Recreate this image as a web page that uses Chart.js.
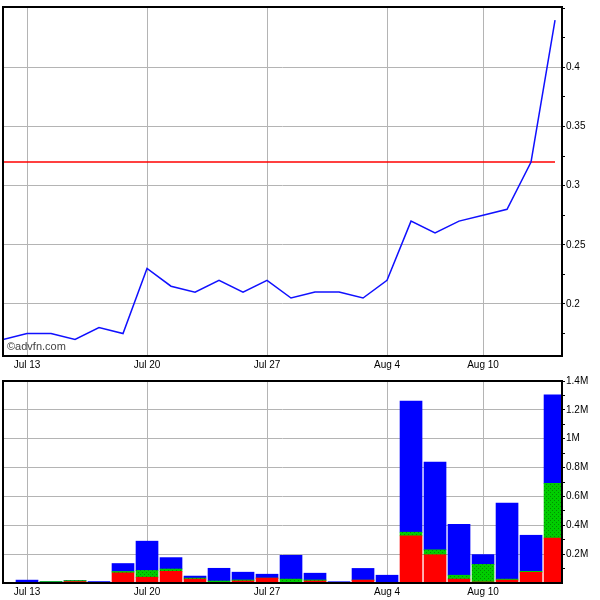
<!DOCTYPE html>
<html>
<head>
<meta charset="utf-8">
<script src="https://cdn.jsdelivr.net/npm/chart.js@4/dist/chart.umd.min.js"></script>
<style>
  body { margin: 0; background: #fff; }
  #wrap { position: relative; width: 600px; height: 600px; }
  canvas { position: absolute; left: 0; }
  #priceChart { top: 0; }
  #volChart { top: 374px; }
</style>
</head>
<body>
<div id="wrap">
  <canvas id="priceChart" width="600" height="374"></canvas>
  <canvas id="volChart" width="600" height="226"></canvas>
</div>
<script>
// trading days (Aug 3 was a market holiday)
const dates = ['Jul 10', 'Jul 13', 'Jul 14', 'Jul 15', 'Jul 16', 'Jul 17',
  'Jul 20', 'Jul 21', 'Jul 22', 'Jul 23', 'Jul 24',
  'Jul 27', 'Jul 28', 'Jul 29', 'Jul 30', 'Jul 31',
  'Aug 4', 'Aug 5', 'Aug 6', 'Aug 7',
  'Aug 10', 'Aug 11', 'Aug 12', 'Aug 13'];
const price = [0.17, 0.175, 0.175, 0.17, 0.18, 0.175,
  0.23, 0.215, 0.21, 0.22, 0.21,
  0.22, 0.205, 0.21, 0.21, 0.205,
  0.22, 0.27, 0.26, 0.27,
  0.275, 0.28, 0.32, 0.44];
const refLevel = 0.32;

// volume split by trade type
const volSell = [0, 0, 0, 10000, 0, 70000,
  40000, 81000, 27000, 0, 14000,
  34000, 0, 14000, 0, 20000,
  0, 327000, 196000, 27000,
  7000, 20000, 74000, 311000];
const volUnknown = [0, 0, 10000, 7000, 0, 10000,
  47000, 16000, 7000, 14000, 7000,
  0, 27000, 7000, 0, 0,
  0, 25000, 34000, 27000,
  122000, 7000, 7000, 379000];
const volBuy = [0, 20000, 0, 0, 10000, 55000,
  203000, 79000, 14000, 88000, 54000,
  27000, 165000, 47000, 9000, 81000,
  54000, 908000, 608000, 352000,
  68000, 527000, 250000, 615000];

const dateTicks = ['Jul 13', 'Jul 20', 'Jul 27', 'Aug 4', 'Aug 10'];
const priceLabels = [0.2, 0.25, 0.3, 0.35, 0.4];
const volLabels = [200000, 400000, 600000, 800000, 1000000, 1200000, 1400000];
const priceMin = 0.156, priceMax = 0.451;
const volMax = 1400000;

const FONT = { family: "'Liberation Sans', Arial, sans-serif", size: 10 };
const GRID = '#b4b4b4';
const xMax = dates.length - 1 + 0.29;

function points(arr) {
  return arr.map((v, i) => ({ x: i, y: v }));
}
function isLabel(list, v) {
  return list.some(l => Math.abs(l - v) < 1e-6 * Math.max(1, l));
}

const framePlugin = {
  id: 'frame',
  afterDraw(chart) {
    const a = chart.chartArea, c = chart.ctx;
    c.save();
    c.strokeStyle = '#000';
    c.lineWidth = 2;
    c.strokeRect(a.left, a.top, a.right - a.left, a.bottom - a.top);
    if (chart.canvas.id === 'priceChart') {
      c.fillStyle = '#444';
      c.font = "11px 'Liberation Sans', Arial, sans-serif";
      c.textBaseline = 'middle';
      c.fillText('\u00a9advfn.com', a.left + 4, a.bottom - 9);
    }
    c.restore();
  }
};

function xAxis(height) {
  return {
    type: 'linear',
    min: 0,
    max: xMax,
    offset: false,
    afterBuildTicks: (axis) => {
      axis.ticks = dateTicks.map(d => ({ value: dates.indexOf(d) }));
    },
    afterFit: (axis) => { axis.height = height; },
    ticks: {
      autoSkip: false,
      maxRotation: 0,
      padding: 3,
      color: '#000',
      font: FONT,
      callback: (v) => dates[v]
    },
    grid: { color: GRID, drawTicks: false, offset: false },
    border: { display: false }
  };
}

function yAxis(min, max, step, labels, fmt) {
  return {
    position: 'right',
    min: min,
    max: max,
    afterBuildTicks: (axis) => {
      const t = [];
      for (let k = Math.ceil(min / step - 1e-9); k * step <= max + 1e-9; k++) {
        if (k * step > min) t.push({ value: k * step });
      }
      axis.ticks = t;
    },
    afterFit: (axis) => { axis.width = 38; },
    ticks: {
      padding: 1,
      color: '#000',
      font: FONT,
      callback: (v) => isLabel(labels, v) ? fmt(v) : ''
    },
    grid: {
      color: (ctx) => isLabel(labels, ctx.tick.value) ? GRID : 'rgba(0,0,0,0)',
      tickColor: '#000',
      tickLength: 3
    },
    border: { display: false }
  };
}

// price chart
new Chart(document.getElementById('priceChart'), {
  type: 'line',
  data: {
    datasets: [{
      data: points(price),
      borderColor: '#1010ff',
      borderWidth: 1.5,
      pointRadius: 0,
      tension: 0
    }, {
      data: [{ x: 0, y: refLevel }, { x: dates.length - 1, y: refLevel }],
      borderColor: '#ff0000',
      borderWidth: 1.5,
      pointRadius: 0
    }]
  },
  options: {
    responsive: false,
    animation: false,
    layout: { padding: { left: 3, top: 3, right: 0, bottom: 0 } },
    plugins: { legend: { display: false }, tooltip: { enabled: false } },
    scales: {
      x: xAxis(18),
      y: yAxis(priceMin, priceMax, 0.025, priceLabels, (v) => String(+v.toFixed(3)))
    }
  },
  plugins: [framePlugin]
});

// volume chart
const volCanvas = document.getElementById('volChart');
function hatch() {
  const c = document.createElement('canvas');
  c.width = 4; c.height = 4;
  const g = c.getContext('2d');
  g.fillStyle = '#00cc00';
  g.fillRect(0, 0, 4, 4);
  g.fillStyle = '#009000';
  g.fillRect(0, 0, 1, 1);
  g.fillRect(2, 2, 1, 1);
  return volCanvas.getContext('2d').createPattern(c, 'repeat');
}

new Chart(volCanvas, {
  type: 'bar',
  data: {
    datasets: [
      { data: points(volSell), backgroundColor: '#ff0000' },
      { data: points(volUnknown), backgroundColor: hatch() },
      { data: points(volBuy), backgroundColor: '#0000ff' }
    ]
  },
  options: {
    responsive: false,
    animation: false,
    layout: { padding: { left: 3, top: 2, right: 0, bottom: 0 } },
    datasets: { bar: { barThickness: 22, borderWidth: 0 } },
    plugins: { legend: { display: false }, tooltip: { enabled: false } },
    scales: {
      x: Object.assign(xAxis(17), { stacked: true }),
      y: Object.assign(yAxis(0, volMax, 100000, volLabels, (v) => (v / 1e6) + 'M'), { stacked: true })
    }
  },
  plugins: [framePlugin]
});
</script>
</body>
</html>
